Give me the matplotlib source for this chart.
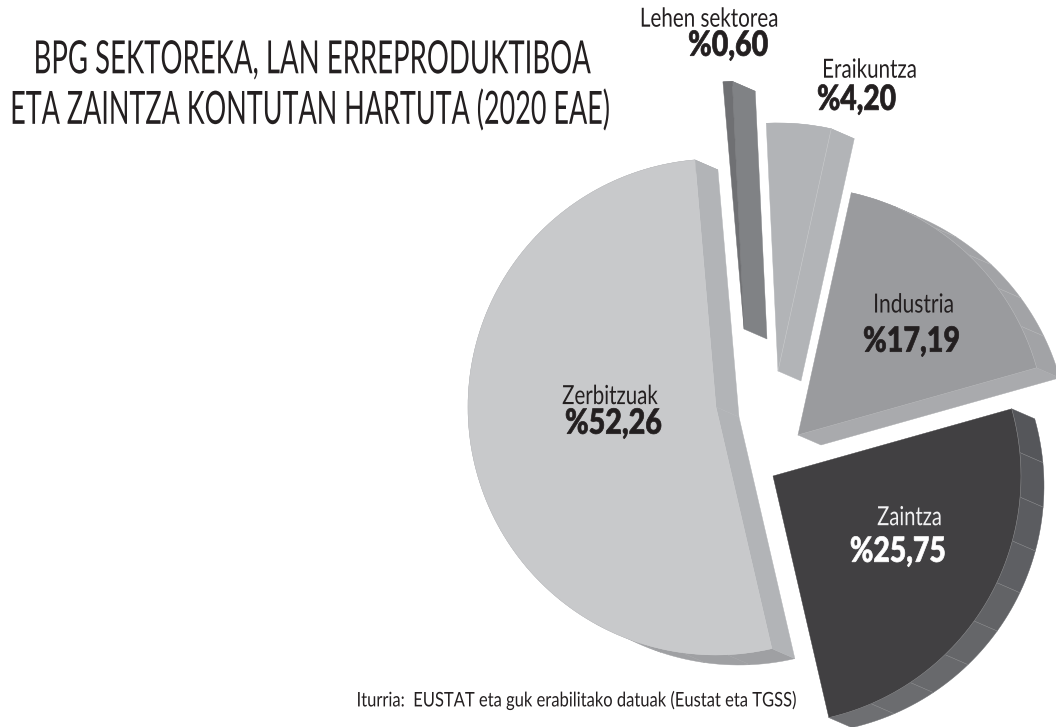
import matplotlib
matplotlib.use('Agg')
import matplotlib.pyplot as plt
from matplotlib.patches import Wedge, Polygon
from matplotlib.patheffects import AbstractPathEffect
from matplotlib.transforms import Affine2D
import numpy as np

# datuak
sektoreak = ['Industria', 'Zaintza', 'Zerbitzuak', 'Lehen sektorea', 'Eraikuntza']
balioak = [17.19, 25.75, 52.26, 0.60, 4.20]
etiketak = ['%17,19', '%25,75', '%52,26', '%0,60', '%4,20']
izenburua = ['BPG SEKTOREKA, LAN ERREPRODUKTIBOA',
             'ETA ZAINTZA KONTUTAN HARTUTA (2020 EAE)']
iturria = 'Iturria:  EUSTAT eta guk erabilitako datuak (Eustat eta TGSS)'

# itxura
START = 12.4   # compass angle of the first slice
R = 248
OFF = np.array([23, 10])
apex = [(798, 435), (773, 476), (716, 407), (744, 329), (778, 371)]
front = ['#9a9b9e', '#414042', '#c8c9cb', '#6f7073', '#b2b4b7']
side = ['#a9aaad', '#58595b', '#b2b4b7', '#808285', '#b2b4b7']
rim0 = ['#a2a3a6', '#55565a', '#9fa0a3', '#808285', '#b2b4b7']
rim1 = ['#a2a3a6', '#6e6f72', '#9fa0a3', '#808285', '#b2b4b7']
line_col = ['#b8b9bb', '#8c8d8f', None, None, '#c8c9cb']

# x0, x1, y centre for each text
name_pos = [(873, 954, 305), (877, 942, 518), (562, 658, 397), (640, 779, 19), (822, 917, 70)]
pct_pos = [(863, 960, 342), (850, 946, 552), (565, 662, 424), (688, 768, 46), (817, 896, 100)]
name_col = ['#231f20', '#f1f1f2', '#231f20', '#231f20', '#231f20']
pct_col = ['#231f20', '#ffffff', '#231f20', '#231f20', '#231f20']


class Tall(AbstractPathEffect):
    # stretches the glyphs upwards, the reference uses a condensed face
    def __init__(self, y0, k, stroke=0):
        super().__init__()
        self.y0 = y0
        self.k = k
        self.stroke = stroke

    def draw_path(self, renderer, gc, tpath, affine, rgbFace=None):
        t = Affine2D().translate(0, -self.y0).scale(1, self.k).translate(0, self.y0)
        gc0 = renderer.new_gc()
        gc0.copy_properties(gc)
        if self.stroke:
            gc0.set_foreground(rgbFace)
            gc0.set_linewidth(self.stroke)
        renderer.draw_path(gc0, tpath, affine + t, rgbFace)
        gc0.restore()


fig = plt.figure(figsize=(10.56, 7.27), dpi=100)
ax = fig.add_axes([0, 0, 1, 1])
ax.set_xlim(0, 1056)
ax.set_ylim(727, 0)
ax.axis('off')


def point(c, deg):
    a = np.radians(deg)
    return np.array(c) + R * np.array([np.sin(a), -np.cos(a)])


def quad(p, q, color, z):
    ax.add_patch(Polygon([p, q, q + OFF, p + OFF], closed=True, fc=color, ec=color, lw=0.3, zorder=z))


def slice3d(i, a0, a1):
    c = np.array(apex[i], dtype=float)
    # radial sides, only when they face the viewer
    for deg, sign in ((a0, -1), (a1, 1)):
        n = np.radians(deg + sign * 90)
        if OFF[0] * np.sin(n) - OFF[1] * np.cos(n) > 0:
            quad(c, point(c, deg), side[i], 2)
            if line_col[i]:
                p = point(c, deg)
                ax.plot([c[0], p[0]], [c[1], p[1]], c=line_col[i], lw=0.4, zorder=5)
    # rim facets
    n = max(int((a1 - a0) / 10.3), 1)
    edges = np.linspace(a0, a1, n + 1)
    cols = np.linspace(matplotlib.colors.to_rgb(rim0[i]), matplotlib.colors.to_rgb(rim1[i]), n)
    for j in range(n):
        fine = np.linspace(edges[j], edges[j + 1], 8)
        pts = np.array([point(c, d) for d in fine])
        poly = np.vstack([pts, (pts + OFF)[::-1]])
        ax.add_patch(Polygon(poly, closed=True, fc=cols[j], ec=cols[j], lw=0.3, zorder=1))
        mid = edges[j]
        if line_col[i] and j > 0 and 23.5 < mid < 203.5:
            p = point(c, mid)
            ax.plot([p[0], p[0] + OFF[0]], [p[1], p[1] + OFF[1]], c=line_col[i], lw=0.35, zorder=3)
    ax.add_patch(Wedge(c, R, a0 - 90, a1 - 90, fc=front[i], ec=front[i], lw=0.3, zorder=4))
    # thin light seam where the face meets the side
    if line_col[i] and a0 < 203.5 and a1 > 23.5:
        arc = np.array([point(c, d) for d in np.linspace(max(a0, 23.5), min(a1, 203.5), 60)])
        ax.plot(arc[:, 0], arc[:, 1], c=line_col[i], lw=0.4, zorder=5)


def put(x0, x1, y, s, size, weight, color, stroke=0):
    # size is the height wanted; the font is made smaller to fit x0..x1, then drawn taller
    t = ax.text((x0 + x1) / 2, y, s, fontsize=size, fontweight=weight, color=color, ha='center', va='center',
                family=['Lato', 'DejaVu Sans'], zorder=6)
    w = t.get_window_extent(fig.canvas.get_renderer()).width
    k = (x1 - x0) / w
    t.set_fontsize(size * k)
    t.set_path_effects([Tall(727 - y, 1 / k, stroke)])
    return t


bounds = START + np.cumsum([0] + balioak) * 3.6
for i in range(len(balioak)):
    slice3d(i, bounds[i], bounds[i + 1])
    put(*name_pos[i], sektoreak[i], 19, 'normal', name_col[i])
    put(*pct_pos[i], etiketak[i], 25, 'black', pct_col[i], stroke=0.5)

put(32, 590, 60, izenburua[0], 33, 'normal', '#231f20')
put(10, 610, 111, izenburua[1], 33, 'normal', '#231f20')
put(357, 795, 700, iturria, 14.5, 'normal', '#231f20')

plt.savefig('out.png', dpi=100)
